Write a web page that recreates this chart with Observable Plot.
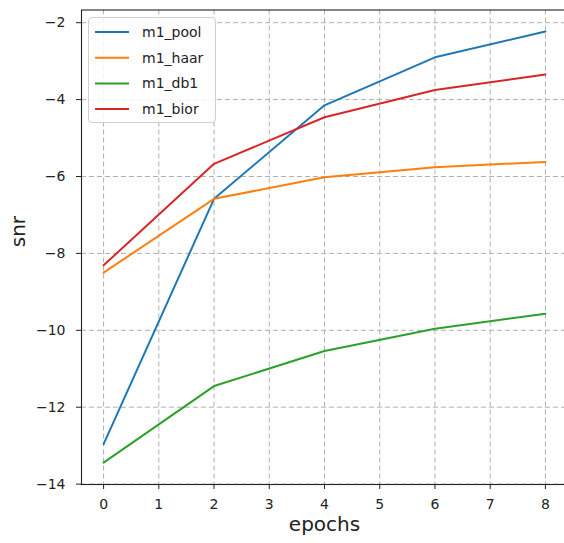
<!DOCTYPE html>
<html>
<head>
<meta charset="utf-8">
<script src="https://cdn.jsdelivr.net/npm/d3@7"></script>
<script src="https://cdn.jsdelivr.net/npm/@observablehq/plot@0.6"></script>
<style>
  html, body { margin: 0; padding: 0; background: #fff; overflow: hidden; }
  #chart { position: relative; width: 564px; height: 543px; }
  #legend { position: absolute; left: 88px; top: 17px; width: 128px; height: 106px;
    border: 1px solid #d0d0d0; border-radius: 4px; background: rgba(255,255,255,0.85);
    box-sizing: border-box; }
  #legend svg { display: block; }
</style>
</head>
<body>
<div id="chart"></div>
<script>
const epochs = [0, 2, 4, 6, 8];
const seriesNames = ["m1_pool", "m1_haar", "m1_db1", "m1_bior"];
const pool = [-12.96, -6.58, -4.15, -2.9, -2.23];
const haar = [-8.5, -6.58, -6.02, -5.76, -5.62];
const db1  = [-13.44, -11.45, -10.54, -9.96, -9.57];
const bior = [-8.31, -5.67, -4.46, -3.75, -3.35];
const colors = ["#1f77b4", "#ff7f0e", "#2ca02c", "#d62728"];
const xTicks = [0, 1, 2, 3, 4, 5, 6, 7, 8];
const yTicks = [-14, -12, -10, -8, -6, -4, -2];
const xLabel = "epochs";
const yLabel = "snr";

const seriesValues = [pool, haar, db1, bior];
const rows = [];
seriesNames.forEach((name, i) => {
  epochs.forEach((e, j) => rows.push({series: name, epoch: e, snr: seriesValues[i][j]}));
});

const font = "DejaVu Sans, sans-serif";
const plot = Plot.plot({
  width: 564,
  height: 543,
  marginLeft: 81,
  marginRight: -3,
  marginTop: 9.5,
  marginBottom: 59,
  style: {fontFamily: font, fontSize: "14px", color: "#222", background: "#fff"},
  x: {domain: [-0.4, 8.4]},
  y: {domain: [-14.01, -1.67]},
  color: {domain: seriesNames, range: colors},
  marks: [
    Plot.gridX(xTicks, {stroke: "#b0b0b0", strokeOpacity: 1, strokeDasharray: "5,3"}),
    Plot.gridY(yTicks, {stroke: "#b0b0b0", strokeOpacity: 1, strokeDasharray: "5,3"}),
    Plot.axisX(xTicks, {tickSize: 5, tickPadding: 10, label: null, fontSize: 14, tickFormat: d => String(d)}),
    Plot.axisY(yTicks, {tickSize: 5, tickPadding: 11, label: null, fontSize: 14, tickFormat: d => d < 0 ? "\u2212" + Math.abs(d) : String(d)}),
    Plot.line(rows, {x: "epoch", y: "snr", z: "series", stroke: "series", strokeWidth: 2}),
    Plot.frame({stroke: "#222", strokeWidth: 1.1}),
    Plot.text([xLabel], {frameAnchor: "bottom", dy: 46, fontSize: 20, fill: "#222"}),
    Plot.text([yLabel], {frameAnchor: "left", dx: -63, rotate: -90, fontSize: 20, fill: "#222"})
  ]
});
const chart = document.getElementById("chart");
chart.appendChild(plot);

// legend
const leg = document.createElement("div");
leg.id = "legend";
chart.appendChild(leg);
const lsvg = d3.select(leg).append("svg").attr("width", 126).attr("height", 104);
seriesNames.forEach((name, i) => {
  const cy = 14 + i * 25.7;
  lsvg.append("line").attr("x1", 6).attr("x2", 40).attr("y1", cy).attr("y2", cy)
    .attr("stroke", colors[i]).attr("stroke-width", 2);
  lsvg.append("text").attr("x", 53).attr("y", cy).attr("dy", "0.35em")
    .attr("font-family", font).attr("font-size", 14).attr("fill", "#222").text(name);
});
</script>
</body>
</html>
